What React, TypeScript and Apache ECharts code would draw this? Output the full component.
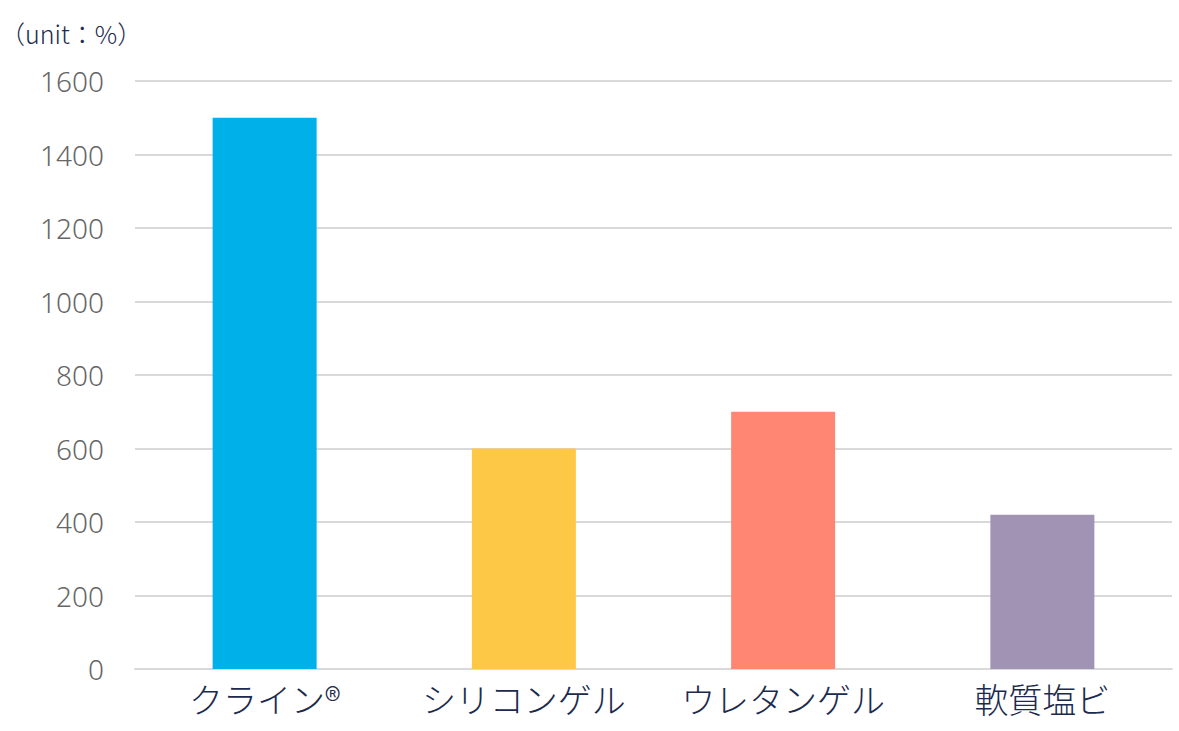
import React, { useEffect, useRef } from "react";
import * as echarts from "echarts";

const categories = ["クライン®", "シリコンゲル", "ウレタンゲル", "軟質塩ビ"];
const values = [1500, 600, 700, 420];
const barColors = ["#00B0E8", "#FDC846", "#FF8673", "#A093B3"];
const unitLabel = "（unit：%）";

export default function App() {
  const ref = useRef<HTMLDivElement>(null);
  useEffect(() => {
    if (!ref.current) return;
    const chart = echarts.init(ref.current, null, { renderer: "svg" });
    chart.setOption({
      animation: false,
      backgroundColor: "#ffffff",
      title: {
        text: unitLabel,
        left: -5,
        top: 15,
        textStyle: {
          fontFamily: "Noto Sans CJK JP",
          fontSize: 25,
          fontWeight: 300,
          color: "#1b2a4e",
        },
      },
      grid: { left: 135, right: 7, top: 81, bottom: 62, containLabel: false },
      xAxis: {
        type: "category",
        data: categories,
        axisTick: { show: false },
        axisLine: { show: true, lineStyle: { color: "#d9d9d9", width: 2 } },
        axisLabel: {
          interval: 0,
          margin: 12,
          fontSize: 34,
          fontWeight: 300,
          color: "#1b2a4e",
          fontFamily: "Noto Sans CJK JP",
        },
      },
      yAxis: {
        type: "value",
        min: 0,
        max: 1600,
        interval: 200,
        axisLine: { show: false },
        axisTick: { show: false },
        splitLine: { lineStyle: { color: "#d9d9d9", width: 2 } },
        axisLabel: {
          margin: 31,
          fontSize: 28,
          fontWeight: 300,
          color: "#666666",
          fontFamily: "Noto Sans",
          formatter: (v: number) => String(v),
        },
      },
      series: [
        {
          type: "bar",
          barWidth: 104,
          data: values.map((v, i) => ({ value: v, itemStyle: { color: barColors[i] } })),
        },
      ],
    });
    return () => chart.dispose();
  }, []);
  return (
    <div
      ref={ref}
      style={{ position: "fixed", left: 0, top: 0, width: 1179, height: 731 }}
    />
  );
}
